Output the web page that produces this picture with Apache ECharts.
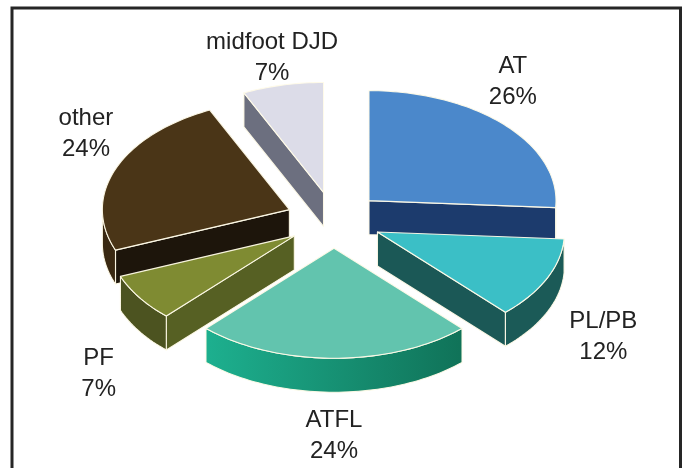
<!DOCTYPE html>
<html><head><meta charset="utf-8">
<script src="https://cdn.jsdelivr.net/npm/echarts@6/dist/echarts.min.js"></script>
<style>html,body{margin:0;padding:0;background:#fff}#c{width:686px;height:468px}</style>
</head><body><div id="c"></div>
<script>
// ---- data ----
const categories = ['AT', 'PL/PB', 'ATFL', 'PF', 'other', 'midfoot DJD'];
const percents = [26, 12, 24, 7, 24, 7];

// ---- styles ----
const topColors = ['#4b88cb', '#3bbfc6', '#62c4ae', '#7f8b32', '#4a3517', '#dcdce8'];
const cutColors = ['#1c3b6d', '#1b5856', '#137a60', '#566023', '#1d150b', '#6c6f7f'];
const wallColors = ['#1c3b6d', '#1b5a57', null, '#4c5320', '#3a2912', '#6c6f7f'];
const atflWall = new echarts.graphic.LinearGradient(0, 0, 1, 0, [
  {offset: 0, color: '#1db08f'}, {offset: 1, color: '#107258'}
]);

// ---- layout ----
const G = {cx: 334, cy: 220, rx: 187, ry: 110, h: 34, explode: 48};
const LR = {rx: 270, ry: 215};
const labelNudge = [[-18, 9], [25, 25], [0, 1], [-12, 33], [3, -7], [-3, 48]];

const total = percents.reduce((a, b) => a + b, 0);
let acc = 0;
const S = percents.map(p => {
  const a1 = 90 - acc / total * 360; acc += p;
  const a2 = 90 - acc / total * 360;
  return {a1, a2, mid: (a1 + a2) / 2};
});
const order = S.map((s, i) => i).sort((a, b) => Math.sin(S[b].mid * Math.PI / 180) - Math.sin(S[a].mid * Math.PI / 180));
const rad = d => d * Math.PI / 180;
const edge = 'rgba(255,251,232,0.95)';

function renderItem(params, api) {
  const i = params.dataIndex;
  const s = S[i];
  const k = G.ry / G.rx;
  const ax = G.cx + G.explode * Math.cos(rad(s.mid));
  const ay = G.cy - G.explode * k * Math.sin(rad(s.mid));
  const P = (t, dy) => [ax + G.rx * Math.cos(rad(t)), ay - G.ry * Math.sin(rad(t)) + (dy || 0)];
  const arc = (from, to, dy) => {
    const n = Math.max(2, Math.ceil(Math.abs(from - to) / 1.5));
    const pts = [];
    for (let j = 0; j <= n; j++) pts.push(P(from + (to - from) * j / n, dy));
    return pts;
  };
  const z = order.indexOf(i) * 10;
  const poly = (pts, fill, z2) => ({type: 'polygon', z2, shape: {points: pts},
    style: {fill, stroke: edge, lineWidth: 1.1, lineJoin: 'round'}});
  const ch = [];
  if (Math.cos(rad(s.a1)) < -1e-6)
    ch.push(poly([[ax, ay], P(s.a1), P(s.a1, G.h), [ax, ay + G.h]], cutColors[i], z));
  if (Math.cos(rad(s.a2)) > 1e-6)
    ch.push(poly([[ax, ay], P(s.a2), P(s.a2, G.h), [ax, ay + G.h]], cutColors[i], z));
  const lo = Math.max(s.a2, -180), hi = Math.min(s.a1, 0);
  if (hi > lo) {
    const pts = arc(hi, lo, 0).concat(arc(lo, hi, G.h));
    ch.push(poly(pts, wallColors[i] || atflWall, z + 1));
  }
  ch.push(poly([[ax, ay]].concat(arc(s.a1, s.a2, 0)), topColors[i], z + 2));
  // label
  const lx = G.cx + LR.rx * Math.cos(rad(s.mid)) + labelNudge[i][0];
  const ly = G.cy - LR.ry * Math.sin(rad(s.mid)) + labelNudge[i][1];
  ch.push({type: 'text', z2: 200, style: {
    text: categories[i] + '\n' + api.value(0) + '%', x: lx, y: ly,
    fill: '#222', fontFamily: 'Liberation Sans', fontSize: 24, lineHeight: 31,
    align: 'center', verticalAlign: 'middle'}});
  return {type: 'group', children: ch};
}

const chart = echarts.init(document.getElementById('c'), null, {renderer: 'canvas'});
chart.setOption({
  animation: false,
  backgroundColor: '#fff',
  graphic: [{type: 'rect', z: -1, shape: {x: 12, y: 8, width: 668.5, height: 500},
    style: {fill: '#fff', stroke: '#262626', lineWidth: 3}}],
  series: [{
    type: 'custom', coordinateSystem: 'none', renderItem,
    data: percents.map((p, i) => [p, i])
  }]
});
</script></body></html>
